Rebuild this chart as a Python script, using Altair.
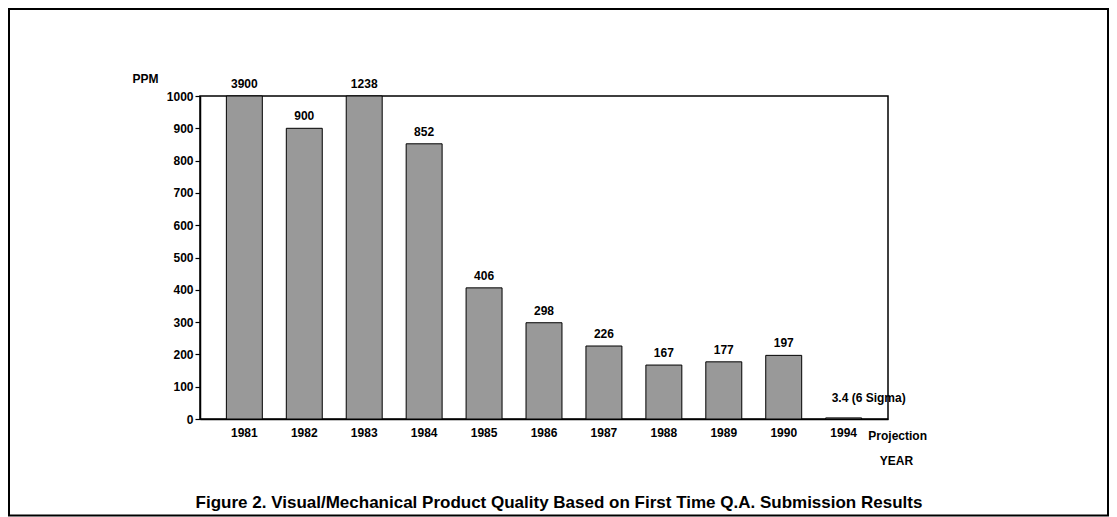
import altair as alt
import pandas as pd

# ---- data ----
years = ["1981", "1982", "1983", "1984", "1985", "1986", "1987", "1988", "1989", "1990", "1994"]
ppm = [3900, 900, 1238, 852, 406, 298, 226, 167, 177, 197, 3.4]
labels = ["3900", "900", "1238", "852", "406", "298", "226", "167", "177", "197", "3.4 (6 Sigma)"]
y_ticks = [0, 100, 200, 300, 400, 500, 600, 700, 800, 900, 1000]
projection_year = ["1994"]
projection_text = ["Projection"]
caption = ["Figure 2. Visual/Mechanical Product Quality Based on First Time Q.A. Submission Results"]

FONT = "Liberation Sans"

df = pd.DataFrame({"year": years, "ppm": ppm, "label": labels})
proj_df = pd.DataFrame({"year": projection_year, "text": projection_text})
cap_df = pd.DataFrame({"text": caption})

x_enc = alt.X(
    "year:N",
    sort=years,
    scale=alt.Scale(paddingInner=0.4, paddingOuter=0.44),
    axis=alt.Axis(
        title="YEAR",
        labelAngle=0,
        ticks=False,
        domainColor="black",
        domainWidth=1.5,
        labelFont=FONT,
        labelFontWeight="bold",
        labelFontSize=12,
        labelColor="black",
        labelPadding=8,
        titleFont=FONT,
        titleFontWeight="bold",
        titleFontSize=12,
        titleColor="black",
        titleX=696,
        titleY=41,
        titleAlign="center",
        titleBaseline="middle",
    ),
)

y_enc = alt.Y(
    "ppm:Q",
    scale=alt.Scale(domain=[0, 1000], clamp=True, nice=False),
    axis=alt.Axis(
        values=y_ticks,
        tickCount=11,
        format="d",
        labelOverlap=False,
        grid=False,
        title="PPM",
        titleAngle=0,
        titleX=-55,
        titleY=-18,
        titleAlign="center",
        titleBaseline="middle",
        titleFont=FONT,
        titleFontWeight="bold",
        titleFontSize=12,
        titleColor="black",
        labelFont=FONT,
        labelFontWeight="bold",
        labelFontSize=12,
        labelColor="black",
        labelPadding=2,
        tickSize=5,
        tickColor="black",
        tickWidth=1.2,
        domainColor="black",
        domainWidth=1.5,
    ),
)

base = alt.Chart(df)

bars = base.mark_bar(color="#999999", stroke="black", strokeWidth=1).encode(x=x_enc, y=y_enc)

value_labels = (
    base.transform_filter(alt.datum.year != "1994")
    .mark_text(font=FONT, fontWeight="bold", fontSize=12, color="black", dy=-12, baseline="middle")
    .encode(x=x_enc, y=y_enc, text="label:N")
)

sigma_label = (
    base.transform_filter(alt.datum.year == "1994")
    .mark_text(font=FONT, fontWeight="bold", fontSize=12, color="black", dy=-20, dx=25, baseline="middle")
    .encode(x=x_enc, y=y_enc, text="label:N")
)

proj_label = (
    alt.Chart(proj_df)
    .mark_text(font=FONT, fontWeight="bold", fontSize=12, color="black", dx=54, dy=17, baseline="middle")
    .encode(x=x_enc, y=alt.value(323), text="text:N")
)

caption_text = (
    alt.Chart(cap_df)
    .mark_text(font=FONT, fontWeight="bold", fontSize=17, color="black", baseline="middle", align="center")
    .encode(x=alt.value(359), y=alt.value(407), text="text:N")
)

border = (
    alt.Chart(alt.Data(values=[{}]))
    .mark_rect(fill=None, stroke="black", strokeWidth=2)
    .encode(x=alt.value(-191), x2=alt.value(908), y=alt.value(-87), y2=alt.value(419.5))
)

chart = (
    alt.layer(bars, value_labels, sigma_label, proj_label, caption_text, border)
    .properties(
        width=688,
        height=323,
        view=alt.ViewBackground(stroke="black", strokeWidth=1.5),
        autosize=alt.AutoSizeParams(type="none"),
        padding={"left": 192, "top": 88, "right": 221, "bottom": 98},
    )
    .configure_view(stroke="black", strokeWidth=1.5)
    .configure(background="white")
)

chart.save("out.html", embed_options={"renderer": "svg", "actions": False})
